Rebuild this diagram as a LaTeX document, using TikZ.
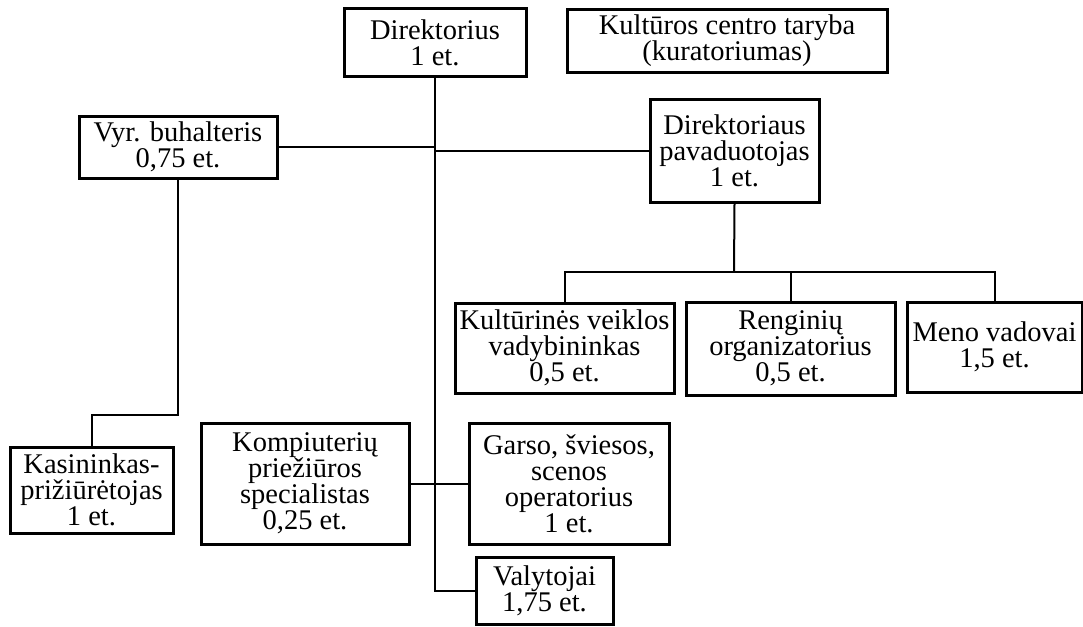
\documentclass[tikz,border=0pt]{standalone}
\usepackage{fontspec}
\setmainfont{Liberation Serif}
\tikzset{
  orgbox/.style={draw, line width=3pt, inner sep=0pt, align=center,
     font=\fontsize{28.5}{26}\selectfont},
  orgline/.style={line width=2pt}
}

\begin{document}
\begin{tikzpicture}[x=1pt,y=-1pt]
\useasboundingbox (0,0) rectangle (1083,626);
    \node[orgbox,minimum width=182pt,minimum height=67pt] (dir) at (435,42.5) {Direktorius\\1 et.};
    \node[orgbox,minimum width=320pt,minimum height=62pt] (taryba) at (727,41) {Kultūros centro taryba\\(kuratoriumas)};
    \node[orgbox,minimum width=198pt,minimum height=62pt] (buh) at (178,147) {Vyr. buhalteris\\0,75 et.};
    \node[orgbox,minimum width=169pt,minimum height=103pt] (pav) at (734.5,150.5) {Direktoriaus\\pavaduotojas\\1 et.};
    \node[orgbox,minimum width=219pt,minimum height=90pt] (vadyb) at (564.5,348) {Kultūrinės veiklos\\vadybininkas\\0,5 et.};
    \node[orgbox,minimum width=209pt,minimum height=93pt] (rengin) at (790.5,348.5) {Renginių\\organizatorius\\0,5 et.};
    \node[orgbox,minimum width=175pt,minimum height=90pt] (meno) at (994.5,347) {Meno vadovai\\1,5 et.};
    \node[orgbox,minimum width=163pt,minimum height=86pt] (kas) at (91.5,490) {Kasininkas-\\prižiūrėtojas\\1 et.};
    \node[orgbox,minimum width=208pt,minimum height=121pt] (komp) at (305,483.5) {Kompiuterių\\priežiūros\\specialistas\\0,25 et.};
    \node[orgbox,minimum width=200pt,minimum height=121pt] (garso) at (569,483.5) {Garso, šviesos,\\scenos\\operatorius\\1 et.};
    \node[orgbox,minimum width=137pt,minimum height=67pt] (val) at (544.5,590.5) {Valytojai\\1,75 et.};
    \coordinate (bus) at (734,272);
    \coordinate (kasbend) at (178,415);
    \draw[orgline] (dir.south) |- (val.west);
    \draw[orgline] (buh.east) -- (buh.east -| dir.south);
    \draw[orgline] (pav.west) -- (pav.west -| dir.south);
    \draw[orgline] (pav.south) -- (bus);
    \draw[orgline] (vadyb.north) |- (bus) -| (meno.north);
    \draw[orgline] (rengin.north) -- (rengin.north |- bus);
    \draw[orgline] (buh.south) -- (kasbend) -| (kas.north);
    \draw[orgline] (komp.east) -- (garso.west);
\end{tikzpicture}
\end{document}
